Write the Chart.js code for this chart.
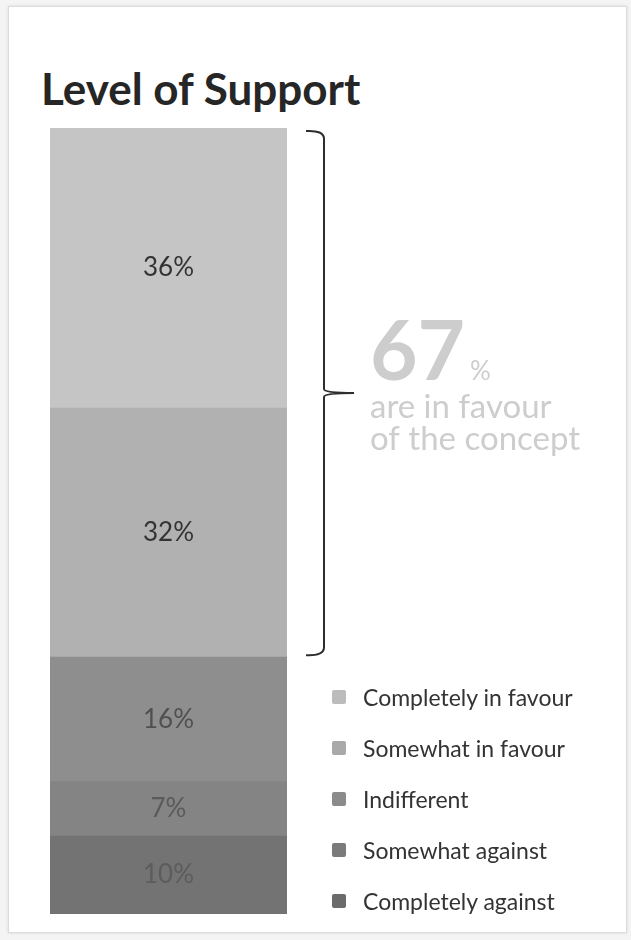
<!DOCTYPE html>
<html>
<head>
<meta charset="utf-8">
<script src="https://cdn.jsdelivr.net/npm/chart.js@4.4.1/dist/chart.umd.min.js"></script>
<style>
  body { margin:0; background:#f4f4f4; font-family: Lato, "Open Sans", sans-serif; }
  #wrap { position:relative; width:631px; height:940px; overflow:hidden; }
  #frame { position:absolute; left:8px; top:6px; width:617px; height:925px; background:#fff;
           border:1px solid #dcdcdc; box-shadow:0 0 3px rgba(0,0,0,0.12); }
  #title { position:absolute; left:41px; top:62px; font:bold 44px Lato, sans-serif; color:#262626; margin:0; }
  #chart { position:absolute; left:0; top:0; }
  #legend { position:absolute; left:332px; top:683px; list-style:none; margin:0; padding:0; }
  #legend li { height:51px; font:23px Lato, sans-serif; color:#333; display:flex; align-items:flex-start; }
  #legend li span.sw { width:14px; height:14px; border-radius:2px; margin:7px 17px 0 0; display:inline-block; }
</style>
</head>
<body>
<div id="wrap">
  <div id="frame"></div>
  <h1 id="title">Level of Support</h1>
  <canvas id="chart" width="631" height="940"></canvas>
  <ul id="legend"></ul>
</div>
<script>
// legend order, top of bar first
const categories = ['Completely in favour', 'Somewhat in favour', 'Indifferent', 'Somewhat against', 'Completely against'];
const values = [36, 32, 16, 7, 10];
const colors = ['#c5c5c5', '#b1b1b1', '#8e8e8e', '#848484', '#737373'];
const swatchColors = ['#bcbcbc', '#a9a9a9', '#8b8b8b', '#7b7b7b', '#6b6b6b'];
const labelColors = ['#333333', '#333333', '#505050', '#5a5a5a', '#5c5c5c'];
const favourTotal = 67;
const favourLines = ['are in favour', 'of the concept'];

const total = values.reduce((a, b) => a + b, 0);

// chart.js stacks from the bottom, so feed datasets reversed
const datasets = categories.map((c, i) => ({
  label: c,
  data: [values[i]],
  backgroundColor: colors[i],
  borderWidth: 0,
  barPercentage: 1,
  categoryPercentage: 1,
  labelColor: labelColors[i]
})).reverse();

const legendEl = document.getElementById('legend');
categories.forEach((c, i) => {
  const li = document.createElement('li');
  li.innerHTML = `<span class="sw" style="background:${swatchColors[i]}"></span>${c}`;
  legendEl.appendChild(li);
});

const barLabels = {
  id: 'barLabels',
  afterDatasetsDraw(chart) {
    const ctx = chart.ctx;
    ctx.save();
    ctx.font = '26px Lato, sans-serif';
    ctx.textAlign = 'center';
    ctx.textBaseline = 'middle';
    chart.data.datasets.forEach((ds, i) => {
      const bar = chart.getDatasetMeta(i).data[0];
      ctx.fillStyle = ds.labelColor;
      ctx.fillText(ds.data[0] + '%', bar.x, (bar.y + bar.base) / 2);
    });
    ctx.restore();
  }
};

const brace = {
  id: 'brace',
  afterDraw(chart) {
    const ctx = chart.ctx;
    const y = chart.scales.y;
    const top = y.getPixelForValue(total) + 3;
    const bot = y.getPixelForValue(total - values[0] - values[1]) - 2;
    const mid = (top + bot) / 2;
    const x = chart.chartArea.right + 37;
    ctx.save();
    ctx.strokeStyle = '#2e2e2e';
    ctx.lineWidth = 2;
    ctx.beginPath();
    ctx.moveTo(x - 18, top);
    ctx.quadraticCurveTo(x, top - 1, x, top + 8);
    ctx.lineTo(x, mid - 4);
    ctx.quadraticCurveTo(x, mid, x + 30, mid);
    ctx.quadraticCurveTo(x, mid, x, mid + 4);
    ctx.lineTo(x, bot - 8);
    ctx.quadraticCurveTo(x, bot + 1, x - 18, bot);
    ctx.stroke();

    // call-out text
    const tx = x + 46;
    ctx.fillStyle = '#cdcdcd';
    ctx.textBaseline = 'alphabetic';
    ctx.textAlign = 'left';
    ctx.font = 'bold 82px Lato, sans-serif';
    ctx.fillText(String(favourTotal), tx, mid - 13);
    const w = ctx.measureText(String(favourTotal)).width;
    ctx.font = '26px Lato, sans-serif';
    ctx.fillText('%', tx + w + 5, mid - 13);
    ctx.font = '33px Lato, sans-serif';
    favourLines.forEach((l, i) => ctx.fillText(l, tx, mid + 25 + i * 32));
    ctx.restore();
  }
};

new Chart(document.getElementById('chart'), {
  type: 'bar',
  data: { labels: [''], datasets },
  options: {
    responsive: false,
    animation: false,
    layout: { padding: { left: 50, right: 344, top: 128, bottom: 26 } },
    plugins: { legend: { display: false }, tooltip: { enabled: false } },
    scales: {
      x: { stacked: true, display: false },
      y: { stacked: true, display: false, min: 0, max: total }
    }
  },
  plugins: [barLabels, brace]
});
</script>
</body>
</html>
